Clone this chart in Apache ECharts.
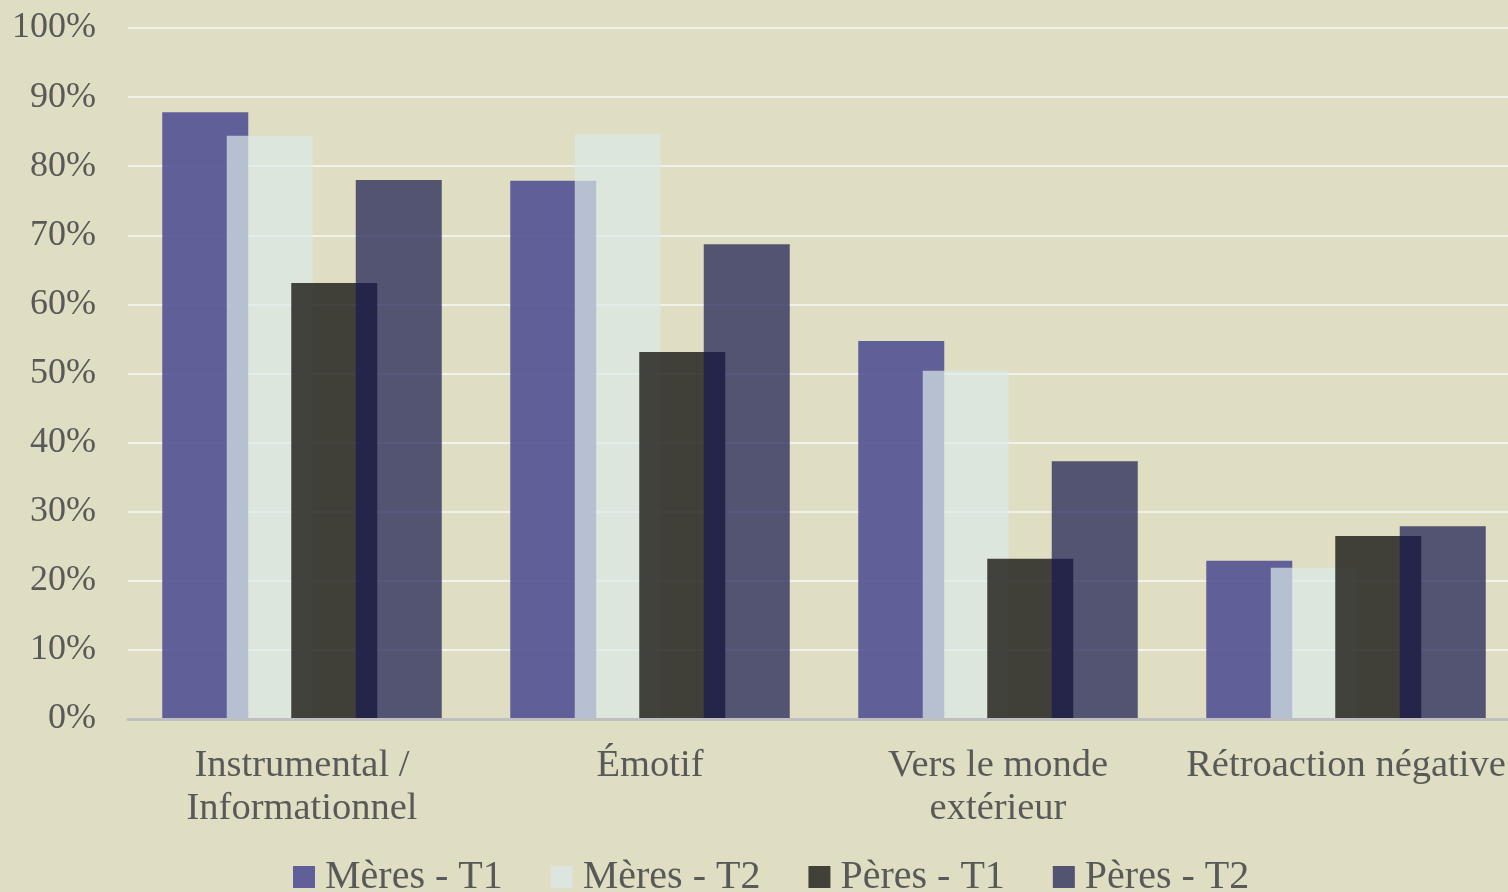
<!DOCTYPE html>
<html>
<head>
<meta charset="utf-8">
<script src="https://cdn.jsdelivr.net/npm/echarts@6/dist/echarts.min.js"></script>
<style>
html,body{margin:0;padding:0;background:#DFDEC3;}
#main{width:1508px;height:892px;}
</style>
</head>
<body>
<div id="main"></div>
<script>
const categories = ['Instrumental /\nInformationnel', 'Émotif', 'Vers le monde\nextérieur', 'Rétroaction négative'];
const seriesNames = ['Mères - T1', 'Mères - T2', 'Pères - T1', 'Pères - T2'];
const meresT1 = [87.8, 77.9, 54.7, 22.9];
const meresT2 = [84.4, 84.7, 50.4, 21.9];
const peresT1 = [63.1, 53.1, 23.2, 26.5];
const peresT2 = [78.0, 68.7, 37.3, 27.9];
const yTicks = [0, 10, 20, 30, 40, 50, 60, 70, 80, 90, 100];

const colors = ['rgba(82,81,148,0.9)', 'rgba(219,233,232,0.7)', 'rgba(38,37,32,0.85)', 'rgba(25,25,81,0.71)'];
const legendColors = ['#605F99', '#DCE6DE', '#424138', '#535372'];
const font = '"Liberation Serif", "DejaVu Serif", serif';
const textColor = '#595959';

const values = [meresT1, meresT2, peresT1, peresT2];
const chart = echarts.init(document.getElementById('main'));
chart.setOption({
  backgroundColor: '#DFDEC3',
  animation: false,
  grid: { left: 128, top: 28, width: 1392, height: 691, containLabel: false, outerBoundsMode: 'none' },
  legend: {
    data: seriesNames.map((n, i) => ({ name: n, itemStyle: { color: legendColors[i], opacity: 1 } })),
    top: 852,
    left: 288,
    icon: 'rect',
    itemWidth: 22,
    itemHeight: 22,
    itemGap: 48,
    textStyle: { fontFamily: font, fontSize: 40, color: textColor, padding: [0, 0, 0, 5] }
  },
  xAxis: {
    type: 'category',
    data: categories,
    z: 5,
    axisLine: { lineStyle: { color: '#BFBFBF', width: 3 } },
    axisTick: { show: false },
    axisLabel: { fontFamily: font, fontSize: 38.5, color: textColor, lineHeight: 43, margin: 25, interval: 0 }
  },
  yAxis: {
    type: 'value',
    min: yTicks[0],
    max: yTicks[yTicks.length - 1],
    interval: 10,
    axisLine: { show: false },
    axisTick: { show: false },
    axisLabel: { fontFamily: font, fontSize: 36, color: textColor, margin: 32, formatter: '{value}%' },
    splitLine: { lineStyle: { color: '#F2F2EC', width: 2 } }
  },
  series: seriesNames.map((n, i) => ({
    name: n,
    type: 'bar',
    data: values[i],
    barWidth: 86,
    barGap: '-25%',
    itemStyle: { color: colors[i] }
  }))
});
</script>
</body>
</html>
